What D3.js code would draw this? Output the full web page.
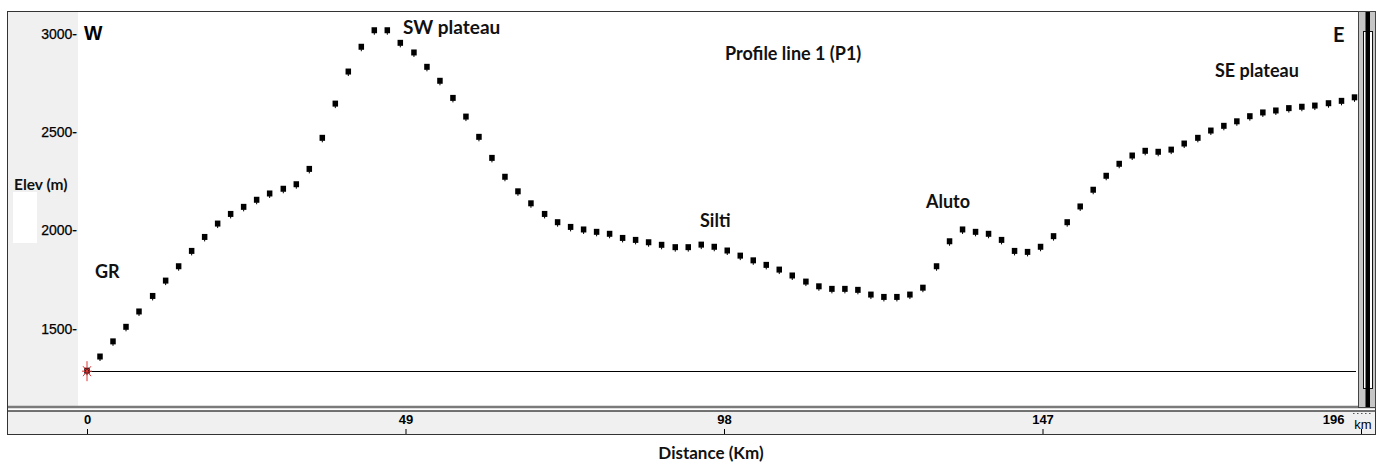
<!doctype html>
<html lang="en">
  <head>
    <meta charset="utf-8">
    <title>Profile line 1 (P1)</title>
    <style>
      body { margin: 0; background: #fff; }
      svg { display: block; }
      .ann { font-family: Lato, "Open Sans", sans-serif; font-weight: 700; fill: #111; }
      .tick text { font-family: "Liberation Sans", Arial, sans-serif; fill: #000; }
    </style>
  </head>
  <body>
    <script src="https://cdn.jsdelivr.net/npm/d3@7"></script>
    <script>

      // distance along the profile (km) and elevation (m), one per sample point
      var distKm = [
        0, 2.0, 4.0, 6.0, 8.0, 10.1, 12.1, 14.1, 16.1, 18.1,
        20.1, 22.1, 24.1, 26.1, 28.1, 30.2, 32.2, 34.2, 36.2, 38.2,
        40.2, 42.2, 44.2, 46.2, 48.2, 50.3, 52.3, 54.3, 56.3, 58.3,
        60.3, 62.3, 64.3, 66.3, 68.3, 70.4, 72.4, 74.4, 76.4, 78.4,
        80.4, 82.4, 84.4, 86.4, 88.4, 90.5, 92.5, 94.5, 96.5, 98.5,
        100.5, 102.5, 104.5, 106.5, 108.5, 110.6, 112.6, 114.6, 116.6, 118.6,
        120.6, 122.6, 124.6, 126.6, 128.6, 130.7, 132.7, 134.7, 136.7, 138.7,
        140.7, 142.7, 144.7, 146.7, 148.7, 150.8, 152.8, 154.8, 156.8, 158.8,
        160.8, 162.8, 164.8, 166.8, 168.8, 170.9, 172.9, 174.9, 176.9, 178.9,
        180.9, 182.9, 184.9, 186.9, 188.9, 191.0, 193.0, 195.0
      ];

      var elevM = [
        1282, 1354, 1431, 1505, 1583, 1662, 1740, 1813, 1891, 1962,
        2030, 2079, 2115, 2151, 2183, 2207, 2230, 2308, 2466, 2640,
        2803, 2929, 3013, 3013, 2949, 2900, 2827, 2756, 2669, 2574,
        2471, 2364, 2268, 2194, 2133, 2079, 2037, 2013, 2000, 1988,
        1978, 1957, 1947, 1935, 1922, 1910, 1910, 1923, 1912, 1893,
        1867, 1843, 1820, 1796, 1766, 1735, 1711, 1698, 1698, 1693,
        1669, 1657, 1657, 1669, 1704, 1813, 1940, 2000, 1988, 1978,
        1947, 1891, 1886, 1912, 1966, 2037, 2117, 2202, 2273, 2334,
        2376, 2400, 2395, 2406, 2437, 2466, 2503, 2527, 2550, 2576,
        2595, 2605, 2617, 2624, 2630, 2642, 2654, 2672
      ];

      var yTicks = [1500, 2000, 2500, 3000];
      var xTicks = [0, 49, 98, 147, 196];

      var W = 1382, H = 463;

      var svg = d3.select("body")
        .append("svg")
        .attr("width", W)
        .attr("height", H);

      var x = d3.scaleLinear()
        .domain([0, 196])
        .range([87, 1361]);

      var y = d3.scaleLinear()
        .domain([1500, 3000])
        .range([328.3, 33.3]);

      // ---- window frame ----
      svg.append("rect") // plot area
        .attr("x", 7.5).attr("y", 11.5)
        .attr("width", 1368).attr("height", 423)
        .attr("fill", "#fff").attr("stroke", "#333");

      svg.append("rect") // grey panel behind y labels
        .attr("x", 8).attr("y", 12)
        .attr("width", 70).attr("height", 394)
        .attr("fill", "#f0f0f0");

      svg.append("rect") // little white box under "Elev (m)"
        .attr("x", 13).attr("y", 192)
        .attr("width", 24).attr("height", 51)
        .attr("fill", "#fff");

      svg.append("rect") // grey strip of the distance ruler
        .attr("x", 8).attr("y", 411)
        .attr("width", 1367).attr("height", 23)
        .attr("fill", "#f0f0f0");

      svg.append("line")
        .attr("x1", 8).attr("x2", 1376).attr("y1", 407).attr("y2", 407)
        .attr("stroke", "#7a7a7a").attr("stroke-width", 2.5);
      svg.append("line")
        .attr("x1", 8).attr("x2", 1376).attr("y1", 411).attr("y2", 411)
        .attr("stroke", "#444").attr("stroke-width", 1.3);

      // right hand scroll bar
      svg.append("rect")
        .attr("x", 1358.5).attr("y", 11.5)
        .attr("width", 17).attr("height", 396)
        .attr("fill", "#c6c6c6").attr("stroke", "#444");
      svg.append("rect")
        .attr("x", 1363.5).attr("y", 31.5)
        .attr("width", 9).attr("height", 357)
        .attr("fill", "#fff").attr("stroke", "#111");
      svg.append("rect")
        .attr("x", 1365.5).attr("y", 12)
        .attr("width", 4.5).attr("height", 395)
        .attr("fill", "#000");

      // ---- axes ----
      var yAxis = svg.append("g")
        .attr("transform", "translate(77,0)")
        .call(d3.axisLeft(y)
          .tickValues(yTicks)
          .tickSize(0)
          .tickPadding(0)
          .tickFormat(function(d){ return d + "-"; }));
      yAxis.select(".domain").remove();
      yAxis.selectAll("text")
        .attr("font-size", 14)
        .attr("stroke", "#000").attr("stroke-width", 0.25)
        .attr("dy", "0.35em");

      var xAxis = svg.append("g")
        .attr("transform", "translate(0,412)")
        .call(d3.axisBottom(x)
          .tickValues(xTicks)
          .tickSize(0)
          .tickPadding(2));
      xAxis.select(".domain").remove();
      xAxis.selectAll("text")
        .attr("font-size", 13)
        .attr("font-weight", 700)
        .attr("dy", "0.78em");
      xAxis.selectAll(".tick")
        .append("line")
        .attr("y1", 17).attr("y2", 22)
        .attr("stroke", "#000");
      // last label sits left of its tick, next to the unit
      xAxis.selectAll(".tick text")
        .filter(function(d){ return d === 196; })
        .attr("text-anchor", "end")
        .attr("x", -17);

      svg.append("text")
        .attr("x", 1363).attr("y", 429)
        .attr("text-anchor", "middle")
        .attr("font-family", "Liberation Sans, Arial, sans-serif")
        .attr("font-size", 13)
        .attr("fill", "#000")
        .text("km");
      svg.append("line")
        .attr("x1", 1353).attr("x2", 1373).attr("y1", 413.5).attr("y2", 413.5)
        .attr("stroke", "#555").attr("stroke-dasharray", "1.5,2.5");

      svg.append("text")
        .attr("class", "ann")
        .attr("x", 711).attr("y", 459)
        .attr("text-anchor", "middle")
        .attr("font-size", 17)
        .text("Distance (Km)");

      svg.append("text")
        .attr("class", "ann")
        .attr("x", 14).attr("y", 190)
        .attr("font-size", 15.5)
        .text("Elev (m)");

      // ---- profile ----
      var pts = distKm.map(function(d, i){ return {d: d, e: elevM[i]}; });

      // reference line at the starting elevation
      svg.append("line")
        .attr("x1", x(distKm[0])).attr("x2", 1356)
        .attr("y1", Math.round(y(elevM[0])) + 0.5)
        .attr("y2", Math.round(y(elevM[0])) + 0.5)
        .attr("stroke", "#000");

      var marks = svg.selectAll(".pt")
        .data(pts)
        .enter()
        .append("g")
        .attr("class", "pt")
        .attr("transform", function(p){ return "translate(" + x(p.d) + "," + y(p.e) + ")"; });
      marks.append("rect")
        .attr("x", -2.75).attr("y", -3.5)
        .attr("width", 5.5).attr("height", 6)
        .attr("fill", "#000");
      marks.append("line")
        .attr("x1", 0).attr("x2", 0).attr("y1", 2).attr("y2", 4)
        .attr("stroke", "#000").attr("stroke-width", 1);

      // red star on the start point
      var star = svg.append("g")
        .attr("transform", "translate(" + x(distKm[0]) + "," + y(elevM[0]) + ")")
        .attr("stroke", "#e03535")
        .attr("stroke-width", 1);
      [[0, -10, 0, 10], [-4, -5, 4, 5], [-4, 5, 4, -5], [-5, 0, 5, 0]].forEach(function(s){
        star.append("line")
          .attr("x1", s[0]).attr("y1", s[1]).attr("x2", s[2]).attr("y2", s[3]);
      });

      // ---- place names ----
      var labels = [
        {t: "GR",                  x: 95,   y: 278, s: 18},
        {t: "SW plateau",          x: 403,  y: 34,  s: 19},
        {t: "Profile line 1 (P1)", x: 725,  y: 60,  s: 18},
        {t: "Silti",               x: 700,  y: 227, s: 18},
        {t: "Aluto",               x: 926,  y: 208, s: 18},
        {t: "SE plateau",          x: 1215, y: 77,  s: 18},
        {t: "E",                   x: 1333, y: 42,  s: 20}
      ];
      svg.selectAll(".lbl")
        .data(labels)
        .enter()
        .append("text")
        .attr("class", "ann lbl")
        .attr("x", function(d){ return d.x; })
        .attr("y", function(d){ return d.y; })
        .attr("font-size", function(d){ return d.s; })
        .text(function(d){ return d.t; });

      svg.append("text")
        .attr("x", 84).attr("y", 39.5)
        .attr("font-family", "Liberation Sans, Arial, sans-serif")
        .attr("font-weight", 700)
        .attr("font-size", 19.5)
        .attr("fill", "#000")
        .text("W");

    </script>
  </body>
</html>
